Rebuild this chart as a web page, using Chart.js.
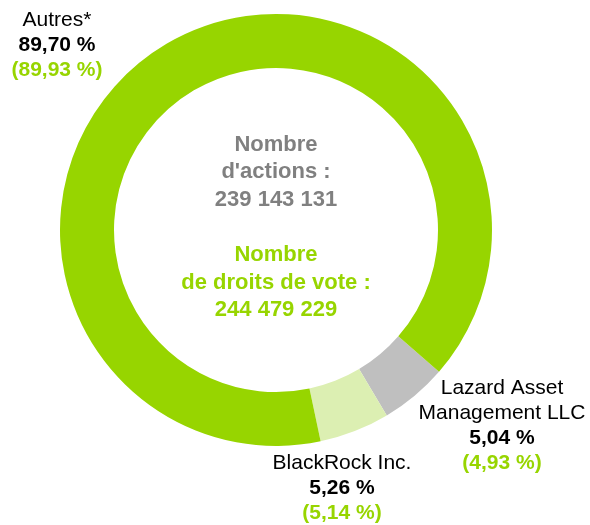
<!DOCTYPE html>
<html>
<head>
<meta charset="utf-8">
<script src="https://cdn.jsdelivr.net/npm/chart.js@4"></script>
<style>
  body { margin: 0; background: #fff; }
  canvas { display: block; }
</style>
</head>
<body>
<canvas id="myChart" width="590" height="525"></canvas>
<script>
const labels = ['Lazard Asset Management LLC', 'BlackRock Inc.', 'Autres*'];
const shares = [5.04, 5.26, 89.70];
const votes = [4.93, 5.14, 89.93];
const colors = ['#bfbfbf', '#dcefb2', '#97d500'];

const nbActions = '239 143 131';
const nbVotes = '244 479 229';

const GREEN = '#97d500';
const GREY = '#808080';
const FONT = '"Liberation Sans", Arial, sans-serif';

const fmt = v => v.toFixed(2).replace('.', ',') + ' %';

// where each label block sits: [x, y of first line, title lines]
const labelBlocks = [
    { x: 502, y: 388, title: ['Lazard Asset', 'Management LLC'] },
    { x: 342, y: 463, title: ['BlackRock Inc.'] },
    { x: 57, y: 20, title: ['Autres*'] }
];

const textPlugin = {
    id: 'texts',
    afterDraw(chart) {
        const c = chart.ctx;
        const arc = chart.getDatasetMeta(0).data[0];
        const cx = arc.x, cy = arc.y;
        c.save();
        c.textAlign = 'center';
        c.textBaseline = 'middle';

        // centre text
        c.font = 'bold 22px ' + FONT;
        c.fillStyle = GREY;
        c.fillText('Nombre', cx, 145);
        c.fillText("d'actions :", cx, 172);
        c.fillText(nbActions, cx, 200);
        c.fillStyle = GREEN;
        c.fillText('Nombre', cx, 255);
        c.fillText('de droits de vote :', cx, 283);
        c.fillText(nbVotes, cx, 310);

        // outer labels
        labelBlocks.forEach((b, i) => {
            let y = b.y;
            c.font = '21px ' + FONT;
            c.fillStyle = '#000';
            b.title.forEach(t => { c.fillText(t, b.x, y); y += 25; });
            c.font = 'bold 21px ' + FONT;
            c.fillText(fmt(shares[i]), b.x, y);
            y += 25;
            c.fillStyle = GREEN;
            c.fillText('(' + fmt(votes[i]) + ')', b.x, y);
        });
        c.restore();
    }
};

new Chart(document.getElementById('myChart'), {
    type: 'doughnut',
    data: {
        labels: labels,
        datasets: [{
            data: shares,
            backgroundColor: colors,
            borderWidth: 0
        }]
    },
    options: {
        responsive: false,
        animation: false,
        cutout: '75%',
        rotation: 131,
        layout: {
            padding: { left: 60, right: 98, top: 14, bottom: 79 }
        },
        plugins: {
            legend: { display: false },
            tooltip: { enabled: false }
        }
    },
    plugins: [textPlugin]
});
</script>
</body>
</html>
